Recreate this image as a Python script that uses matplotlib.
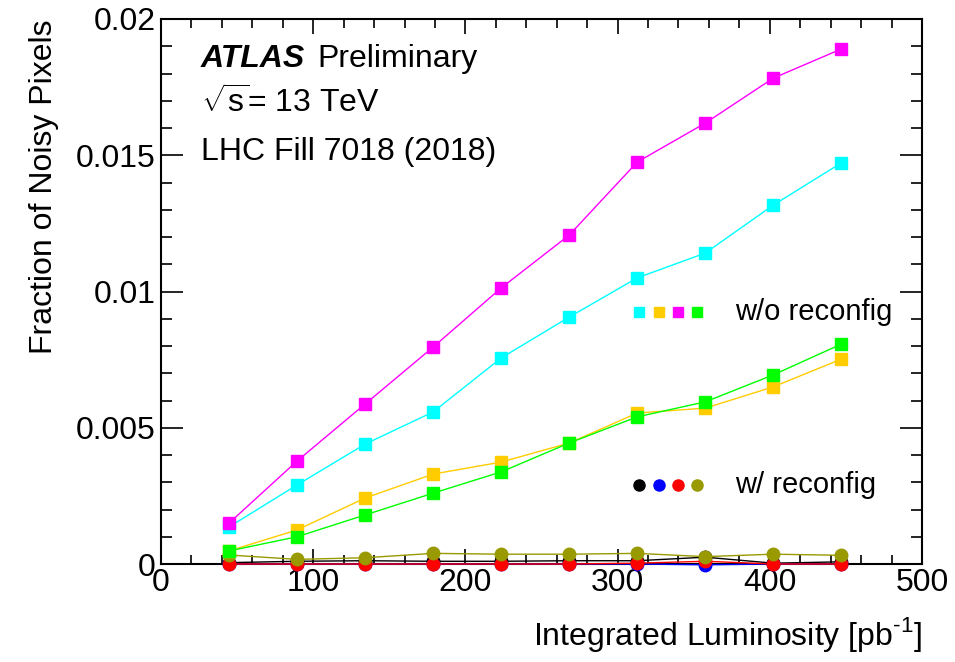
import matplotlib
matplotlib.use("Agg")
import matplotlib.pyplot as plt
from matplotlib.ticker import MultipleLocator, FixedLocator

plt.rcParams['font.family'] = ['Liberation Sans', 'DejaVu Sans']
plt.rcParams['mathtext.fontset'] = 'custom'
plt.rcParams['mathtext.rm'] = 'Liberation Sans'

# Integrated luminosity [pb^-1]
lumi = [44.7, 89.4, 134.1, 178.8, 223.5, 268.2, 312.9, 357.6, 402.3, 447.0]

# Fraction of noisy pixels without reconfiguration
cyan_wo = [0.00136, 0.0029, 0.0044, 0.00558, 0.00756, 0.00906, 0.0105, 0.01141, 0.01317, 0.01472]
orange_wo = [0.00048, 0.00125, 0.00242, 0.0033, 0.00374, 0.00444, 0.00554, 0.00572, 0.0065, 0.00752]
magenta_wo = [0.0015, 0.00378, 0.00587, 0.00796, 0.01013, 0.01207, 0.01475, 0.01618, 0.01783, 0.0189]
green_wo = [0.00048, 0.001, 0.0018, 0.0026, 0.00338, 0.00444, 0.0054, 0.00595, 0.00694, 0.00807]

# Fraction of noisy pixels with reconfiguration
black_w = [0.00005, 0.0001, 0.00012, 0.0001, 0.0001, 0.00012, 0.00012, 0.00025, 0.00003, 0.00008]
blue_w = [0.0, 0.0, 0.0, 0.0, 0.0, 0.0, 0.0, -0.00003, 0.0, 0.0]
red_w = [0.0, 0.0, 0.0, 0.0, 0.0, 0.0, 0.00003, 0.0001, 0.0, 0.0]
olive_w = [0.00033, 0.00017, 0.00023, 0.00039, 0.00036, 0.00036, 0.00039, 0.00027, 0.00036, 0.00032]

fig = plt.figure(figsize=(9.55, 6.62), dpi=100)
ax = fig.add_axes([161/955, 1 - 564/662, (922-161)/955, (564-19)/662])

C_CYAN, C_ORANGE, C_MAG, C_GREEN = '#00ffff', '#ffcc00', '#ff00ff', '#00ff00'
C_BLACK, C_BLUE, C_RED, C_OLIVE = '#000000', '#0000ff', '#ff0000', '#999900'

for y, c in [(black_w, C_BLACK), (blue_w, C_BLUE), (red_w, C_RED), (olive_w, C_OLIVE)]:
    ax.plot(lumi, y, color=c, lw=1.0, marker='o', ms=9, mec=c, mfc=c, clip_on=False, zorder=3)

for y, c in [(cyan_wo, C_CYAN), (orange_wo, C_ORANGE), (magenta_wo, C_MAG), (green_wo, C_GREEN)]:
    ax.plot(lumi, y, color=c, lw=1.0, marker='s', ms=8.5, mec=c, mfc=c, clip_on=False, zorder=4)

ax.set_xlim(0, 500)
ax.set_ylim(0, 0.02)

ax.xaxis.set_major_locator(MultipleLocator(100))
ax.xaxis.set_minor_locator(MultipleLocator(20))
ax.yaxis.set_major_locator(FixedLocator([0, 0.005, 0.01, 0.015, 0.02]))
ax.yaxis.set_minor_locator(MultipleLocator(0.001))
ax.set_yticklabels(['0', '0.005', '0.01', '0.015', '0.02'])
ax.tick_params(which='both', direction='in', top=True, right=True, labelsize=23, width=1.2, color='black')
ax.tick_params(axis='x', which='major', length=11, pad=3)
ax.tick_params(axis='x', which='minor', length=6.5)
ax.tick_params(axis='y', which='major', length=16, pad=4)
ax.tick_params(axis='y', which='minor', length=8)
for s in ax.spines.values():
    s.set_linewidth(1.5)

ax.set_xlabel('Integrated Luminosity [pb$^{\\mathregular{\\text{-}1}}$]', fontsize=23, loc='right', labelpad=12)
ax.set_ylabel('Fraction of Noisy Pixels', fontsize=23, loc='top', labelpad=12)

# Labels
ax.text(0.052, 0.912, 'ATLAS', transform=ax.transAxes, fontsize=23, fontweight='bold',
        fontstyle='italic', va='baseline')
ax.text(0.206, 0.912, 'Preliminary', transform=ax.transAxes, fontsize=23, va='baseline')
ax.text(0.052, 0.827, r'$\sqrt{\mathregular{s}}$= 13 TeV', transform=ax.transAxes, fontsize=23, va='baseline')
ax.text(0.052, 0.742, 'LHC Fill 7018 (2018)', transform=ax.transAxes, fontsize=23, va='baseline')

# Legend swatches
sq_x = [639, 659, 678, 697]
for px, c in zip(sq_x, [C_CYAN, C_ORANGE, C_MAG, C_GREEN]):
    fig.lines.append(plt.Line2D([px/955], [1 - 312/662], transform=fig.transFigure,
                                marker='s', ms=7.5, color=c, ls='none'))
fig.text(735/955, 1 - 312/662, 'w/o reconfig', fontsize=21, va='center')
for px, c in zip(sq_x, [C_BLACK, C_BLUE, C_RED, C_OLIVE]):
    fig.lines.append(plt.Line2D([px/955], [1 - 485/662], transform=fig.transFigure,
                                marker='o', ms=8, color=c, ls='none'))
fig.text(735/955, 1 - 485/662, 'w/ reconfig', fontsize=21, va='center')

fig.savefig('out.png', dpi=100)
